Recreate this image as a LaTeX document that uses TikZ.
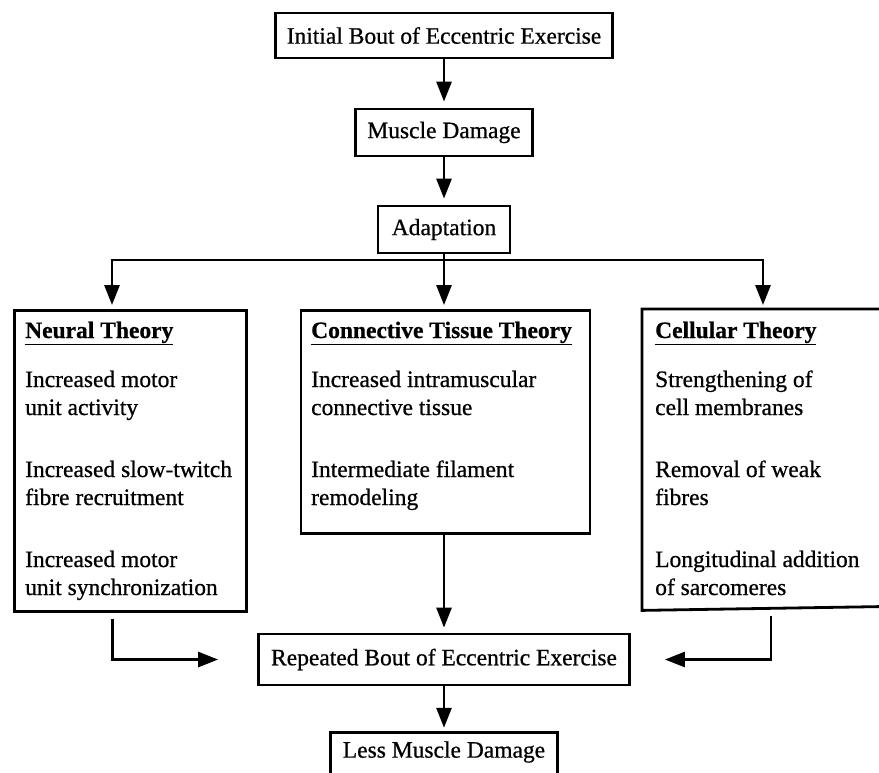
\documentclass[tikz,border=0pt]{standalone}
\usepackage{fontspec}
\setmainfont{Liberation Serif}[FakeBold=0.7]
\usetikzlibrary{arrows.meta}
\begin{document}
\begin{tikzpicture}[x=1pt,y=-1pt,
  box/.style={draw, line width=2.8pt, inner sep=0pt, font=\fontsize{23.5}{28}\selectfont},
  lbl/.style={inner sep=0pt, anchor=base west, font=\fontsize{23.5}{28}\selectfont},
  ln/.style={line width=2.8pt, line join=miter},
  arr/.style={line width=2.8pt, line join=miter, -{Triangle[length=20pt,width=15pt]}}]
\useasboundingbox[fill=white] (0,0) rectangle (879,773);

% top chain
\node[box, minimum width=337, minimum height=45] (b1) at (444,35.5) {Initial Bout of Eccentric Exercise};
\node[box, minimum width=177, minimum height=47] (b2) at (444,132.5) {Muscle Damage};
\node[box, minimum width=132, minimum height=47] (b3) at (444,229.5) {Adaptation};

% theory boxes
\node[draw, line width=2.8pt, inner sep=0pt, minimum width=232, minimum height=301, anchor=north west] (neural) at (13,309) {};
\node[draw, line width=2.8pt, inner sep=0pt, minimum width=289, minimum height=223, anchor=north west] (conn) at (299.5,309) {};
\node[inner sep=0pt, minimum width=250, minimum height=301, anchor=north west] (cell) at (642,309) {};
\draw[ln] (cell.north east) -- (cell.north west) -- (cell.south west) -- ([yshift=4pt]cell.south east);

% neural text
\node[lbl] (n0) at (25,338) {\underline{\textbf{Neural Theory}}};
\node[lbl] (n1) at (25,387) {Increased motor};
\node[lbl] (n2) at (25,415) {unit activity};
\node[lbl] (n3) at (25,477) {Increased slow-twitch};
\node[lbl] (n4) at (25,505) {fibre recruitment};
\node[lbl] (n5) at (25,567) {Increased motor};
\node[lbl] (n6) at (25,595) {unit synchronization};

% connective text
\node[lbl] (c0) at (311,338) {\underline{\textbf{Connective Tissue Theory}}};
\node[lbl] (c1) at (311,387) {Increased intramuscular};
\node[lbl] (c2) at (311,415) {connective tissue};
\node[lbl] (c3) at (311,477) {Intermediate filament};
\node[lbl] (c4) at (311,505) {remodeling};

% cellular text
\node[lbl] (s0) at (655,338) {\underline{\textbf{Cellular Theory}}};
\node[lbl] (s1) at (655,387) {Strengthening of};
\node[lbl] (s2) at (655,415) {cell membranes};
\node[lbl] (s3) at (655,477) {Removal of weak};
\node[lbl] (s4) at (655,505) {fibres};
\node[lbl] (s5) at (655,567) {Longitudinal addition};
\node[lbl] (s6) at (655,595) {of sarcomeres};

% bottom chain
\node[box, minimum width=371, minimum height=51] (rep) at (444,659.5) {Repeated Bout of Eccentric Exercise};
\node[inner sep=0pt, minimum width=226, minimum height=38, font=\fontsize{23.5}{28}\selectfont] (less) at (444,752) {Less Muscle Damage};
\draw[ln] ([yshift=-40pt]less.south west) -- (less.north west) -- (less.north east) -- ([yshift=-40pt]less.south east);

% connectors
\draw[arr] (b1.south) -- ([yshift=6pt]b2.north);
\draw[arr] (b2.south) -- ([yshift=6pt]b3.north);
\coordinate (hm) at (444,260);
\coordinate (hl) at (112,260);
\coordinate (hr) at (763,260);
\draw[ln] (b3.south) -- (hm);
\draw[arr] (hm) -| ([yshift=4pt]hl |- neural.north);
\draw[arr] (hm) -| ([yshift=4pt]hr |- cell.north);
\draw[arr] (hm) -- ([yshift=4pt]hm |- conn.north);
\draw[arr] ([xshift=-18pt,yshift=-6pt]neural.south) |- ([xshift=-39pt]rep.west);
\draw[arr] ([xshift=129pt,yshift=-6pt]cell.south west) |- ([xshift=34pt]rep.east);
\draw[arr] (conn.south -| rep.north) -- ([yshift=5pt]rep.north);
\draw[arr] (rep.south) -- ([yshift=5pt]less.north);
\end{tikzpicture}
\end{document}
